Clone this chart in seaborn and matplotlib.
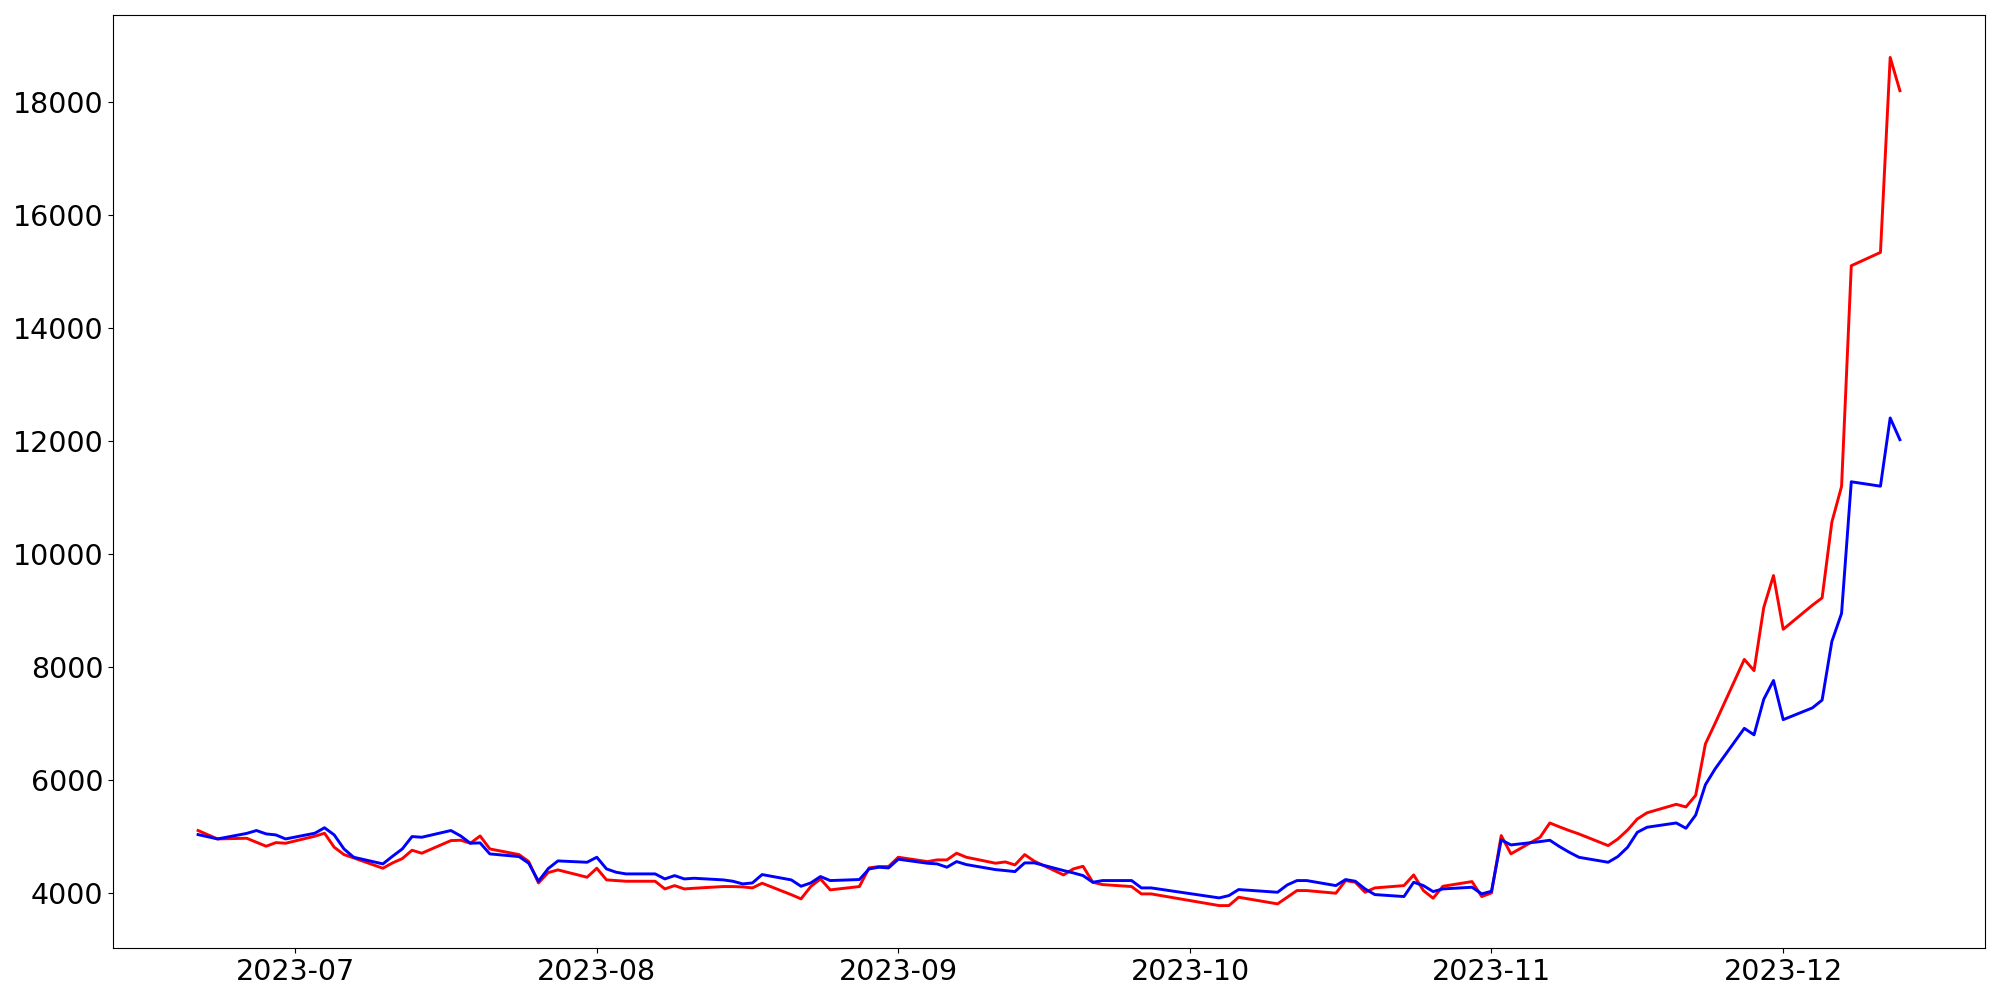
import matplotlib
matplotlib.use("Agg")
import matplotlib.pyplot as plt
import seaborn as sns
import pandas as pd

dates = [
    "2023-06-21", "2023-06-23", "2023-06-26", "2023-06-27", "2023-06-28", "2023-06-29", "2023-06-30",
    "2023-07-03", "2023-07-04", "2023-07-05", "2023-07-06", "2023-07-07",
    "2023-07-10", "2023-07-11", "2023-07-12", "2023-07-13", "2023-07-14",
    "2023-07-17", "2023-07-18", "2023-07-19", "2023-07-20", "2023-07-21",
    "2023-07-24", "2023-07-25", "2023-07-26", "2023-07-27", "2023-07-28",
    "2023-07-31", "2023-08-01", "2023-08-02", "2023-08-03", "2023-08-04",
    "2023-08-07", "2023-08-08", "2023-08-09", "2023-08-10", "2023-08-11",
    "2023-08-14", "2023-08-15", "2023-08-16", "2023-08-17", "2023-08-18",
    "2023-08-21", "2023-08-22", "2023-08-23", "2023-08-24", "2023-08-25",
    "2023-08-28", "2023-08-29", "2023-08-30", "2023-08-31", "2023-09-01",
    "2023-09-04", "2023-09-05", "2023-09-06", "2023-09-07", "2023-09-08",
    "2023-09-11", "2023-09-12", "2023-09-13", "2023-09-14", "2023-09-15",
    "2023-09-18", "2023-09-19", "2023-09-20", "2023-09-21", "2023-09-22",
    "2023-09-25", "2023-09-26", "2023-09-27",
    "2023-10-04", "2023-10-05", "2023-10-06",
    "2023-10-10", "2023-10-11", "2023-10-12", "2023-10-13",
    "2023-10-16", "2023-10-17", "2023-10-18", "2023-10-19", "2023-10-20",
    "2023-10-23", "2023-10-24", "2023-10-25", "2023-10-26", "2023-10-27",
    "2023-10-30", "2023-10-31", "2023-11-01", "2023-11-02", "2023-11-03",
    "2023-11-06", "2023-11-07", "2023-11-08", "2023-11-09", "2023-11-10",
    "2023-11-13", "2023-11-14", "2023-11-15", "2023-11-16", "2023-11-17",
    "2023-11-20", "2023-11-21", "2023-11-22", "2023-11-23", "2023-11-24",
    "2023-11-27", "2023-11-28", "2023-11-29", "2023-11-30", "2023-12-01",
    "2023-12-04", "2023-12-05", "2023-12-06", "2023-12-07", "2023-12-08",
    "2023-12-11", "2023-12-12", "2023-12-13",
]

red_values = [
    5111, 4962, 4974, 4903, 4833, 4897, 4886,
    5010, 5063, 4815, 4685, 4626,
    4443, 4538, 4614, 4762, 4709,
    4933, 4939, 4886, 5015, 4785,
    4685, 4561, 4183, 4366, 4414,
    4284, 4443, 4237, 4225, 4213,
    4213, 4077, 4136, 4077, 4089,
    4119, 4119, 4113, 4095, 4178,
    3975, 3901, 4119, 4254, 4060,
    4119, 4449, 4473, 4473, 4638,
    4561, 4591, 4591, 4709, 4638,
    4532, 4555, 4502, 4685, 4567,
    4325, 4431, 4478, 4195, 4154,
    4119, 3989, 3989,
    3782, 3782, 3930,
    3812, 3930, 4048, 4048,
    4001, 4225, 4195, 4018, 4095,
    4136, 4325, 4048, 3912, 4124,
    4207, 3942, 4006, 5021, 4698,
    4992, 5245, 5175, 5110, 5050,
    4844, 4962, 5121, 5316, 5425,
    5575, 5528, 5735, 6645, 7010,
    8140, 7942, 9060, 9625, 8673,
    9100, 9230, 10570, 11203, 15110,
    15346, 18798, 18208,
]

blue_values = [
    5039, 4962, 5060, 5111, 5051, 5033, 4962,
    5063, 5160, 5033, 4785, 4638,
    4520, 4656, 4785, 5004, 4992,
    5111, 5015, 4886, 4892, 4697,
    4650, 4532, 4213, 4437, 4573,
    4549, 4638, 4431, 4372, 4343,
    4343, 4254, 4313, 4254, 4266,
    4237, 4213, 4166, 4183, 4331,
    4237, 4124, 4183, 4296, 4225,
    4243, 4431, 4461, 4449, 4603,
    4532, 4520, 4461, 4561, 4508,
    4419, 4402, 4384, 4538, 4538,
    4402, 4361, 4313, 4195, 4225,
    4225, 4095, 4095,
    3918, 3959, 4066,
    4018, 4148, 4225, 4225,
    4136, 4243, 4213, 4077, 3977,
    3942, 4195, 4136, 4030, 4077,
    4107, 3989, 4036, 4945, 4856,
    4915, 4939, 4826, 4726, 4637,
    4549, 4650, 4815, 5080, 5169,
    5245, 5151, 5385, 5922, 6203,
    6920, 6805, 7435, 7767, 7074,
    7282, 7420, 8457, 8955, 11285,
    11207, 12415, 12030,
]

series_names = ["red_series", "blue_series"]
series_colors = ["red", "blue"]

df = pd.concat([
    pd.DataFrame({"date": pd.to_datetime(dates), "value": red_values, "series": series_names[0]}),
    pd.DataFrame({"date": pd.to_datetime(dates), "value": blue_values, "series": series_names[1]}),
], ignore_index=True)

fig, ax = plt.subplots(figsize=(20, 10), dpi=100)
sns.lineplot(data=df, x="date", y="value", hue="series", hue_order=series_names,
             palette=dict(zip(series_names, series_colors)), linewidth=2.1,
             legend=False, ax=ax, estimator=None, sort=False)
ax.set_xlabel("")
ax.set_ylabel("")
ax.tick_params(axis="both", labelsize=20.5)
fig.subplots_adjust(left=0.0565, right=0.9925, top=0.985, bottom=0.052)
fig.savefig("out.png", dpi=100)
